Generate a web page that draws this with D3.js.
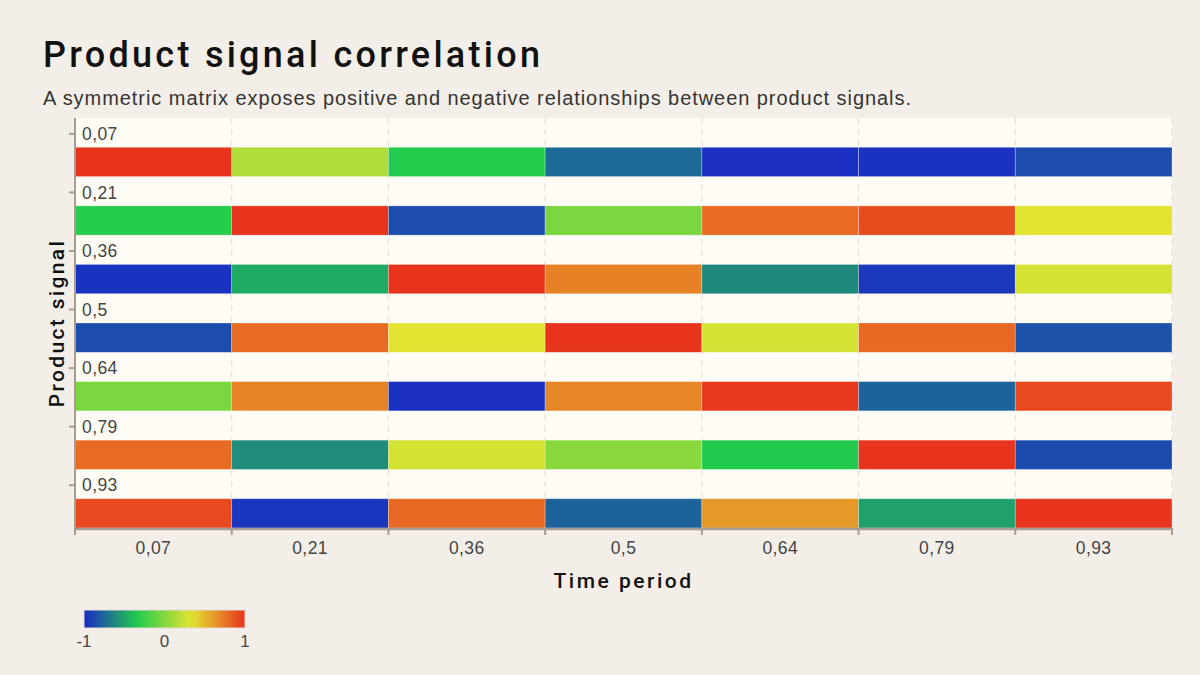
<!DOCTYPE html>
<html><head><meta charset="utf-8">
<script src="https://cdn.jsdelivr.net/npm/d3@7/dist/d3.min.js"></script>
<style>
html,body{margin:0;padding:0;background:#f3efe8;}
svg{display:block;}
</style></head>
<body>
<svg id="chart" width="1200" height="675"></svg>
<script>
const rowLabels = ["0,07","0,21","0,36","0,5","0,64","0,79","0,93"];
const colLabels = ["0,07","0,21","0,36","0,5","0,64","0,79","0,93"];
const row0 = [1.00, 0.15, -0.33, -0.74, -0.98, -0.97, -0.86];
const row1 = [-0.32, 1.00, -0.86, -0.03, 0.79, 0.91, 0.33];
const row2 = [-0.97, -0.47, 1.00, 0.71, -0.61, -0.95, 0.28];
const row3 = [-0.86, 0.79, 0.33, 1.00, 0.28, 0.80, -0.84];
const row4 = [-0.03, 0.70, -0.98, 0.69, 0.99, -0.77, 0.92];
const row5 = [0.79, -0.60, 0.28, 0.02, -0.34, 1.00, -0.87];
const row6 = [0.92, -0.96, 0.80, -0.77, 0.62, -0.51, 1.00];
const rows = [row0,row1,row2,row3,row4,row5,row6];
const legendTicks = [-1, 0, 1];

const svg = d3.select("#chart");
const W = 1200, H = 675;
const m = {left:75, right:28, top:118, bottom:147};
const pw = W - m.left - m.right, ph = H - m.top - m.bottom;

const color = d3.scaleLinear()
  .domain([-1, -1/3, 1/3, 1])
  .range(["#1a2bc5", "#22cc4c", "#e4e432", "#e8341c"])
  .interpolate(d3.interpolateRgb)
  .clamp(true);

// Title
svg.append("text").attr("x",43).attr("y",67)
  .attr("font-family","Roboto, 'Noto Sans', sans-serif").attr("font-weight",500)
  .attr("font-size",36).attr("fill","#111")
  .attr("textLength",497).attr("lengthAdjust","spacing")
  .text("Product signal correlation");
svg.append("text").attr("x",43).attr("y",105)
  .attr("font-family","'Liberation Sans', Arial, sans-serif")
  .attr("font-size",20).attr("fill","#333")
  .attr("textLength",868).attr("lengthAdjust","spacing")
  .text("A symmetric matrix exposes positive and negative relationships between product signals.");

const g = svg.append("g").attr("transform",`translate(${m.left},${m.top})`);

const x = d3.scaleBand().domain(colLabels).range([0,pw]).padding(0);
const y = d3.scaleBand().domain(rowLabels).range([0,ph]).padding(0);
const bw = y.bandwidth();

g.append("rect").attr("width",pw).attr("height",ph).attr("fill","#fffcf5");

// vertical dashed gridlines at column boundaries
const bounds = colLabels.map(c => x(c)).concat([pw]);
g.append("g").selectAll("line").data(bounds.slice(1)).join("line")
  .attr("x1",d=>d).attr("x2",d=>d).attr("y1",0).attr("y2",ph)
  .attr("stroke","#e6e1d8").attr("stroke-width",1.2).attr("stroke-dasharray","6,5");

// cells
const cells = [];
rows.forEach((r,i)=> r.forEach((v,j)=> cells.push({row:rowLabels[i], col:colLabels[j], v})));
g.append("g").selectAll("rect").data(cells).join("rect")
  .attr("x",d=>x(d.col)).attr("y",d=>y(d.row)+bw/2)
  .attr("width",x.bandwidth()).attr("height",bw/2)
  .attr("fill",d=>color(d.v))
  .attr("stroke","rgba(255,255,255,0.35)").attr("stroke-width",0.8);

// Y axis
const axisColor = "#a99d91";
g.append("line").attr("x1",0).attr("x2",0).attr("y1",0).attr("y2",ph)
  .attr("stroke",axisColor).attr("stroke-width",2);
const yt = g.append("g").selectAll("g").data(rowLabels).join("g")
  .attr("transform",d=>`translate(0,${y(d)+bw*0.27})`);
yt.append("line").attr("x1",-6).attr("x2",0).attr("stroke",axisColor).attr("stroke-width",2);
yt.append("text").attr("x",7).attr("dy","0.35em")
  .attr("font-family","'Liberation Sans', Arial, sans-serif").attr("font-size",17.5)
  .attr("letter-spacing",0.4)
  .attr("fill","#444").text(d=>d);

// X axis
g.append("line").attr("x1",0).attr("x2",pw).attr("y1",ph+1).attr("y2",ph+1)
  .attr("stroke",axisColor).attr("stroke-width",2.5);
g.append("g").selectAll("line").data(bounds).join("line")
  .attr("x1",d=>d).attr("x2",d=>d).attr("y1",ph).attr("y2",ph+7)
  .attr("stroke",axisColor).attr("stroke-width",2);
g.append("g").selectAll("text").data(colLabels).join("text")
  .attr("x",d=>x(d)+x.bandwidth()/2).attr("y",ph+26)
  .attr("text-anchor","middle")
  .attr("font-family","'Liberation Sans', Arial, sans-serif").attr("font-size",17.5)
  .attr("letter-spacing",0.4)
  .attr("fill","#444").text(d=>d);

// Axis titles
svg.append("text").attr("x",m.left+pw/2).attr("y",588).attr("text-anchor","middle")
  .attr("font-family","Roboto, 'Noto Sans', sans-serif").attr("font-weight",500)
  .attr("font-size",21).attr("letter-spacing",2.5).attr("fill","#111").text("Time period");
svg.append("text").attr("transform",`translate(64,${m.top+ph/2}) rotate(-90)`)
  .attr("text-anchor","middle")
  .attr("font-family","Roboto, 'Noto Sans', sans-serif").attr("font-weight",500)
  .attr("font-size",21).attr("letter-spacing",2.35).attr("fill","#111").text("Product signal");

// Legend
const defs = svg.append("defs");
const grad = defs.append("linearGradient").attr("id","lg").attr("x1","0%").attr("x2","100%");
d3.range(0,1.0001,0.05).forEach(t=>{
  grad.append("stop").attr("offset",(t*100)+"%").attr("stop-color",color(-1+2*t));
});
const lx = d3.scaleLinear().domain([-1,1]).range([84,245]);
svg.append("rect").attr("x",lx(-1)).attr("y",610).attr("width",lx(1)-lx(-1)).attr("height",18)
  .attr("fill","url(#lg)").attr("stroke","#e6dcd8").attr("stroke-width",1);
svg.append("g").selectAll("text").data(legendTicks).join("text")
  .attr("x",d=>lx(d)).attr("y",647).attr("text-anchor","middle")
  .attr("font-family","'Liberation Sans', Arial, sans-serif").attr("font-size",17)
  .attr("fill","#444").text(d=>d);
</script>
</body></html>
